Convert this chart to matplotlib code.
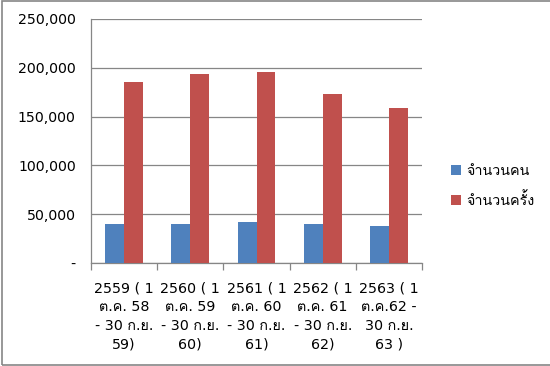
import matplotlib
matplotlib.use("Agg")
import matplotlib.pyplot as plt
from matplotlib.patches import Rectangle
from matplotlib.ticker import FuncFormatter, FixedLocator
import numpy as np

plt.rcParams['font.family'] = ['DejaVu Sans', 'Loma']

# ข้อมูล
years = [
    "2559 ( 1\nต.ค. 58\n- 30 ก.ย.\n59)",
    "2560 ( 1\nต.ค. 59\n- 30 ก.ย.\n60)",
    "2561 ( 1\nต.ค. 60\n- 30 ก.ย.\n61)",
    "2562 ( 1\nต.ค. 61\n- 30 ก.ย.\n62)",
    "2563 ( 1\nต.ค.62 -\n30 ก.ย.\n63 )",
]
persons = [40000, 40000, 42000, 40000, 38000]
visits = [185500, 193700, 195800, 173200, 158800]
series_names = ["จำนวนคน", "จำนวนครั้ง"]
yticks = [0, 50000, 100000, 150000, 200000, 250000]

blue = "#4F81BD"
red = "#C0504D"
grey = "#868686"

fig = plt.figure(figsize=(5.5, 3.66), dpi=100)
ax = fig.add_axes([91/550, 1-263/366, (422-91)/550, (263-19)/366])

x = np.arange(len(years))
w = 0.287
ax.bar(x - w/2, persons, w, color=blue, label=series_names[0], zorder=3)
ax.bar(x + w/2, visits, w, color=red, label=series_names[1], zorder=3)

ax.set_xlim(-0.5, len(years) - 0.5)
ax.set_ylim(0, 250000)
ax.set_yticks(yticks)
ax.yaxis.set_major_formatter(FuncFormatter(lambda v, p: "-" if v == 0 else f"{int(v):,}"))
ax.yaxis.grid(True, color=grey, linewidth=0.9, zorder=0)
ax.tick_params(axis='y', length=0, pad=11, labelsize=10.2, colors='black')

ax.set_xticks(x)
ax.set_xticklabels(years, fontsize=10.3, linespacing=1.45)
ax.xaxis.set_minor_locator(FixedLocator(np.arange(-0.5, len(years), 1.0)))
ax.tick_params(axis='x', which='major', length=0, pad=13)
ax.tick_params(axis='x', which='minor', length=5, color=grey, width=0.9)

for s in ['top', 'right']:
    ax.spines[s].set_visible(False)
for s in ['left', 'bottom']:
    ax.spines[s].set_color(grey)
    ax.spines[s].set_linewidth(0.9)

ax.legend(loc='center left', bbox_to_anchor=(438/550, 1-186/366), bbox_transform=fig.transFigure,
          frameon=False, handlelength=0.7, handleheight=0.7, handletextpad=0.4,
          labelspacing=1.0, fontsize=10.3)

# กรอบรอบแผนภูมิ
fig.add_artist(Rectangle((2/550, 1/366), 1.0, 364/366, transform=fig.transFigure,
                         fill=False, edgecolor=grey, linewidth=1.2))

fig.savefig("out.png", dpi=100)
